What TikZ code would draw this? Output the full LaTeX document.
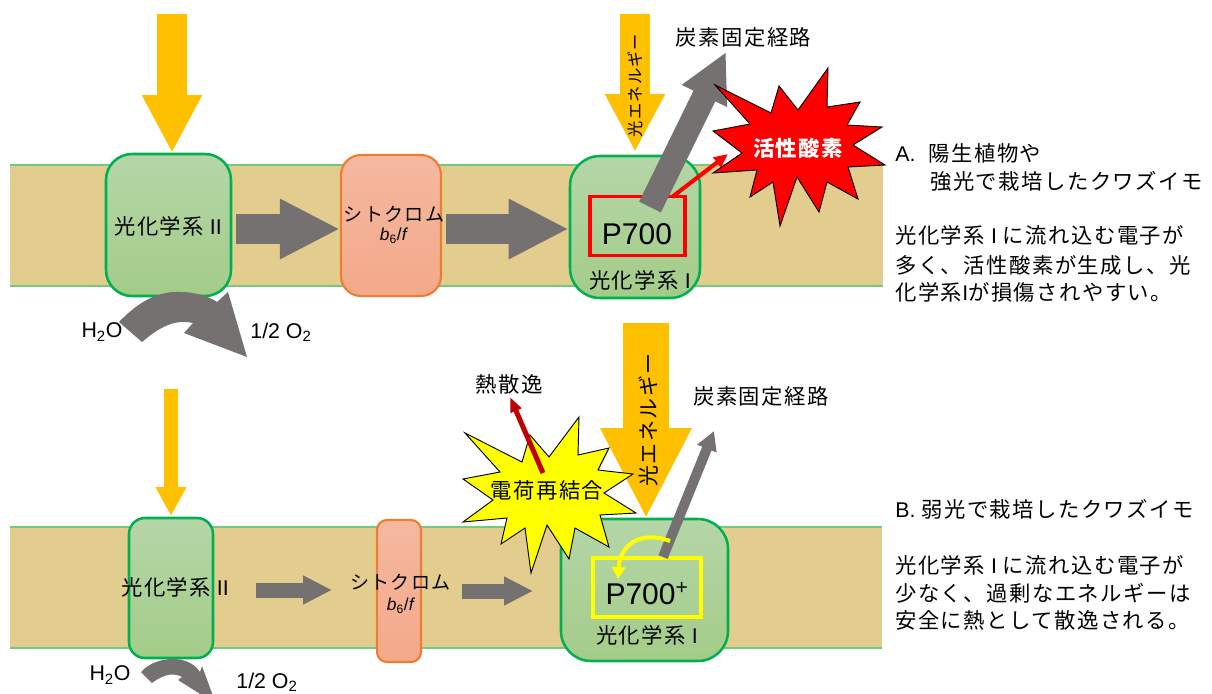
\documentclass[tikz,border=0pt]{standalone}
\usepackage{fontspec}
\setmainfont{Liberation Sans}
\newfontfamily\jpfont[LetterSpace=7]{Noto Sans CJK JP}
\newcommand{\J}[1]{{\jpfont #1}}
\usetikzlibrary{arrows.meta}
\definecolor{band}{HTML}{E2CD8E}
\definecolor{bandline}{HTML}{6FCB7F}
\definecolor{gboxedge}{HTML}{00B050}
\definecolor{gtop}{HTML}{B5D6A8}
\definecolor{gbot}{HTML}{A3CC88}
\definecolor{otop}{HTML}{F5B8A0}
\definecolor{obot}{HTML}{F3A98A}
\definecolor{oedge}{HTML}{ED7D31}
\definecolor{amber}{HTML}{FFC000}
\definecolor{arrowgray}{HTML}{767171}
\definecolor{darkred}{HTML}{C00000}
\definecolor{pureyellow}{HTML}{FFFF00}
\definecolor{purered}{HTML}{FF0000}
\tikzset{
  x=0.75pt,y=-0.75pt,
  bandfill/.style={fill=band,draw=none},
  bandedge/.style={draw=bandline,line width=1.2pt},
  greenbox/.style n args={3}{draw=gboxedge,line width=1.9pt,top color=gtop,bottom color=gbot,rounded corners=#3*0.75pt,minimum width=#1*0.75pt,minimum height=#2*0.75pt,inner sep=0pt},
  orangebox/.style n args={3}{draw=oedge,line width=1.6pt,top color=otop,bottom color=obot,rounded corners=#3*0.75pt,minimum width=#1*0.75pt,minimum height=#2*0.75pt,inner sep=0pt},
  pbox/.style n args={3}{draw=#3,line width=2.4pt,minimum width=#1*0.75pt,minimum height=#2*0.75pt,inner sep=0pt},
  lbl/.style={inner sep=0pt,font=\fontsize{16}{19}\selectfont},
  cytlbl/.style={inner sep=0pt,font=\fontsize{14.3}{17}\selectfont},
  biolbl/.style={inner sep=0pt,font=\fontsize{13}{15}\selectfont},
  chem/.style={inner sep=0pt,font=\fontsize{16}{19}\selectfont},
  bigj/.style={inner sep=0pt,font=\fontsize{16}{19}\selectfont},
  side/.style={inner sep=0pt,anchor=west,font=\fontsize{16}{19}\selectfont},
  amberA/.style={draw=amber,line width=22.5pt,-{Triangle[length=43.5pt,width=42pt]}},
  amberB/.style={draw=amber,line width=34.5pt,-{Triangle[length=68.25pt,width=63.5pt]}},
  amberC/.style={draw=amber,line width=10.5pt,-{Triangle[length=21.75pt,width=21.7pt]}},
  grayA/.style={draw=arrowgray,line width=22.5pt,-{Triangle[length=45pt,width=42pt]}},
  grayB/.style={draw=arrowgray,line width=11.25pt,-{Triangle[length=21.75pt,width=20.3pt]}},
  grayupA/.style={draw=arrowgray,line width=18.2pt,-{Triangle[length=36.75pt,width=35pt]}},
  grayupB/.style={draw=arrowgray,line width=7.5pt,-{Triangle[length=14.25pt,width=14.7pt]}},
  redarrow/.style={draw=purered,line width=3pt,-{Triangle[length=10.5pt,width=9pt]}},
  heatarrow/.style={draw=darkred,line width=3.75pt,-{Triangle[length=11.25pt,width=8.4pt]}},
  yellowcurve/.style={draw=pureyellow,line width=3pt,-{Triangle[length=9pt,width=9.8pt]}},
  burst/.style={draw=black,line width=0.7pt,line join=miter},
}
\begin{document}
\begin{tikzpicture}
\clip (0,0) rectangle (1212,693);
% membranes
\fill[bandfill] (10,165) rectangle (883,286);
\draw[bandedge] (10,165) -- (883,165) (10,286) -- (883,286);
\fill[bandfill] (10,527) rectangle (882,648);
\draw[bandedge] (10,527) -- (882,527) (10,648) -- (882,648);
% panel A boxes
\node[greenbox={125}{142}{26}] (psiiA) at (168.5,225) {};
\node[orangebox={100}{141}{20}] (cytA) at (391,225.5) {};
\node[greenbox={130}{142}{30}] (psiA) at (635,227) {};
\node[pbox={95}{59}{purered}] (pA) at (637.5,226) {};
\node[lbl] (psiiAt) at (168,226) {\J{光化学系} II};
\node[cytlbl] (cytAt) at (394,214) {\J{シトクロム}};
\node[biolbl] (cytAs) at (394,236) {\textit{b}\textsubscript{6}/\textit{f}};
\node[inner sep=0pt,font=\fontsize{22.5}{26}\selectfont] (pAt) at (637,234) {P700};
\node[lbl] (psiAt) at (640,280) {\J{光化学系} I};
% panel A arrows
\coordinate (lA0) at (172,14);
\coordinate (lA1) at (172,153);
\draw[amberA] (lA0) -- (lA1);
\coordinate (lB0) at (635,14);
\coordinate (lB1) at (635,152);
\draw[amberA] (lB0) -- (lB1);
\node[inner sep=0pt,rotate=90,font=\fontsize{12.2}{15}\selectfont] (engA) at (635,85.5) {\J{光エネルギー}};
\coordinate (flowA) at (0,229);
\draw[grayA,shorten <=3pt] (psiiA.east |- flowA) -- (cytA.west |- flowA);
\draw[grayA,shorten <=3pt] (cytA.east |- flowA) -- (psiA.west |- flowA);
\coordinate (upA0) at (650,207);
\coordinate (upA1) at (726,52);
\draw[grayupA] (upA0) -- (upA1);
% burst A
\filldraw[burst,fill=purered] (715,85) -- (771,113) -- (779,86) -- (798,110) -- (828,68) -- (827,107) -- (860,102) -- (847,125) -- (882,127) -- (853,145) -- (885,165) -- (848,167) -- (858,199) -- (827,182) -- (819,212) -- (797,177) -- (780,226) -- (773,182) -- (750,197) -- (757,170) -- (713,173) -- (742,153) -- (713,131) -- (750,124) -- cycle;
\coordinate (redS) at (672,197);
\coordinate (redT) at (728,154);
\draw[redarrow] (redS) -- (redT);
\node[bigj,text=white,font=\fontsize{16}{19}\bfseries\selectfont] (rosT) at (798,148) {\J{活性酸素}};
\node[bigj] (cfA) at (743.5,37) {\J{炭素固定経路}};
% water A
\fill[arrowgray] (119,322) .. controls (140,300) and (160,291) .. (180,292) .. controls (195,292) and (208,296) .. (217,302) -- (228,292) -- (247,357) -- (184,333) -- (193,323) .. controls (180,320) and (165,322) .. (142,342) -- cycle;
\node[chem] (h2oA) at (102,332) {H\textsubscript{2}O};
\node[chem] (o2A) at (281,332) {1/2 O\textsubscript{2}};
% panel B boxes
\node[greenbox={84}{140}{16}] (psiiB) at (171,588) {};
\node[orangebox={44}{142}{10}] (cytB) at (399,591) {};
\node[greenbox={167}{142}{30}] (psiB) at (644.5,590) {};
\node[pbox={108}{59}{pureyellow}] (pB) at (647,587.5) {};
\node[lbl] (psiiBt) at (175,587) {\J{光化学系} II};
\node[cytlbl] (cytBt) at (400.5,582) {\J{シトクロム}};
\node[biolbl] (cytBs) at (401,606) {\textit{b}\textsubscript{6}/\textit{f}};
\node[inner sep=0pt,font=\fontsize{22.5}{26}\selectfont] (pBt) at (647,594) {P700\textsuperscript{+}};
\node[lbl] (psiBt) at (647,635) {\J{光化学系} I};
% panel B arrows
\coordinate (yB0) at (171,389);
\coordinate (yB1) at (171,516);
\draw[amberC] (yB0) -- (yB1);
\coordinate (gB0) at (256,590);
\coordinate (gB1) at (332,590);
\draw[grayB] (gB0) -- (gB1);
\coordinate (gB2) at (462,591);
\coordinate (gB3) at (533,591);
\draw[grayB] (gB2) -- (gB3);
\coordinate (upB0) at (663,557);
\coordinate (upB1) at (714,431);
\draw[grayupB] (upB0) -- (upB1);
\coordinate (bigB0) at (646,323);
\coordinate (bigB1) at (646,519);
\draw[amberB] (bigB0) -- (bigB1);
\node[inner sep=0pt,rotate=90,font=\fontsize{15.7}{19}\selectfont] (engB) at (648,420) {\J{光エネルギー}};
% burst B
\filldraw[burst,fill=pureyellow] (465,433) -- (522,462) -- (530,435) -- (549,457) -- (579,417) -- (578,455) -- (609,448) -- (598,470) -- (633,474) -- (604,493) -- (636,513) -- (600,515) -- (609,547) -- (575,528) -- (569,559) -- (547,525) -- (531,573) -- (525,528) -- (501,544) -- (507,518) -- (463,522) -- (493,500) -- (463,479) -- (500,472) -- cycle;
\coordinate (hS) at (543,473);
\coordinate (hT) at (510,397);
\draw[heatarrow] (hS) -- (hT);
\node[bigj] (rec) at (547,490) {\J{電荷再結合}};
\node[bigj] (heat) at (509,384) {\J{熱散逸}};
\node[bigj] (cfB) at (761,396) {\J{炭素固定経路}};
\coordinate (ycS) at (670,541);
\coordinate (ycT) at (618,579);
\draw[yellowcurve] (ycS) .. controls (640,530) and (620,545) .. (ycT);
% water B
\fill[arrowgray] (141,672) .. controls (150,662) and (163,659) .. (173,659) .. controls (185,659) and (195,664) .. (200,672) -- (202,666) -- (216,704) -- (178,680) -- (182,677) .. controls (175,673) and (165,673) .. (152,683) -- cycle;
\node[chem] (h2oB) at (110,675) {H\textsubscript{2}O};
\node[chem] (o2B) at (267,682) {1/2 O\textsubscript{2}};
% side text
\node[side] (a1) at (895,153) {A.\ \ \hspace{1pt}\J{陽生植物や}};
\node[side] (a2) at (930,181) {\J{強光で栽培したクワズイモ}};
\node[side] (a3) at (895,235) {\J{光化学系} I \J{に流れ込む電子が}};
\node[side] (a4) at (895,265) {\J{多く、活性酸素が生成し、光}};
\node[side] (a5) at (895,292) {\J{化学系}I\J{が損傷されやすい。}};
\node[side] (b1) at (895,509) {B. \J{弱光で栽培したクワズイモ}};
\node[side] (b2) at (895,565) {\J{光化学系} I \J{に流れ込む電子が}};
\node[side] (b3) at (895,593) {\J{少なく、過剰なエネルギーは}};
\node[side] (b4) at (895,620) {\J{安全に熱として散逸される。}};
\end{tikzpicture}
\end{document}
